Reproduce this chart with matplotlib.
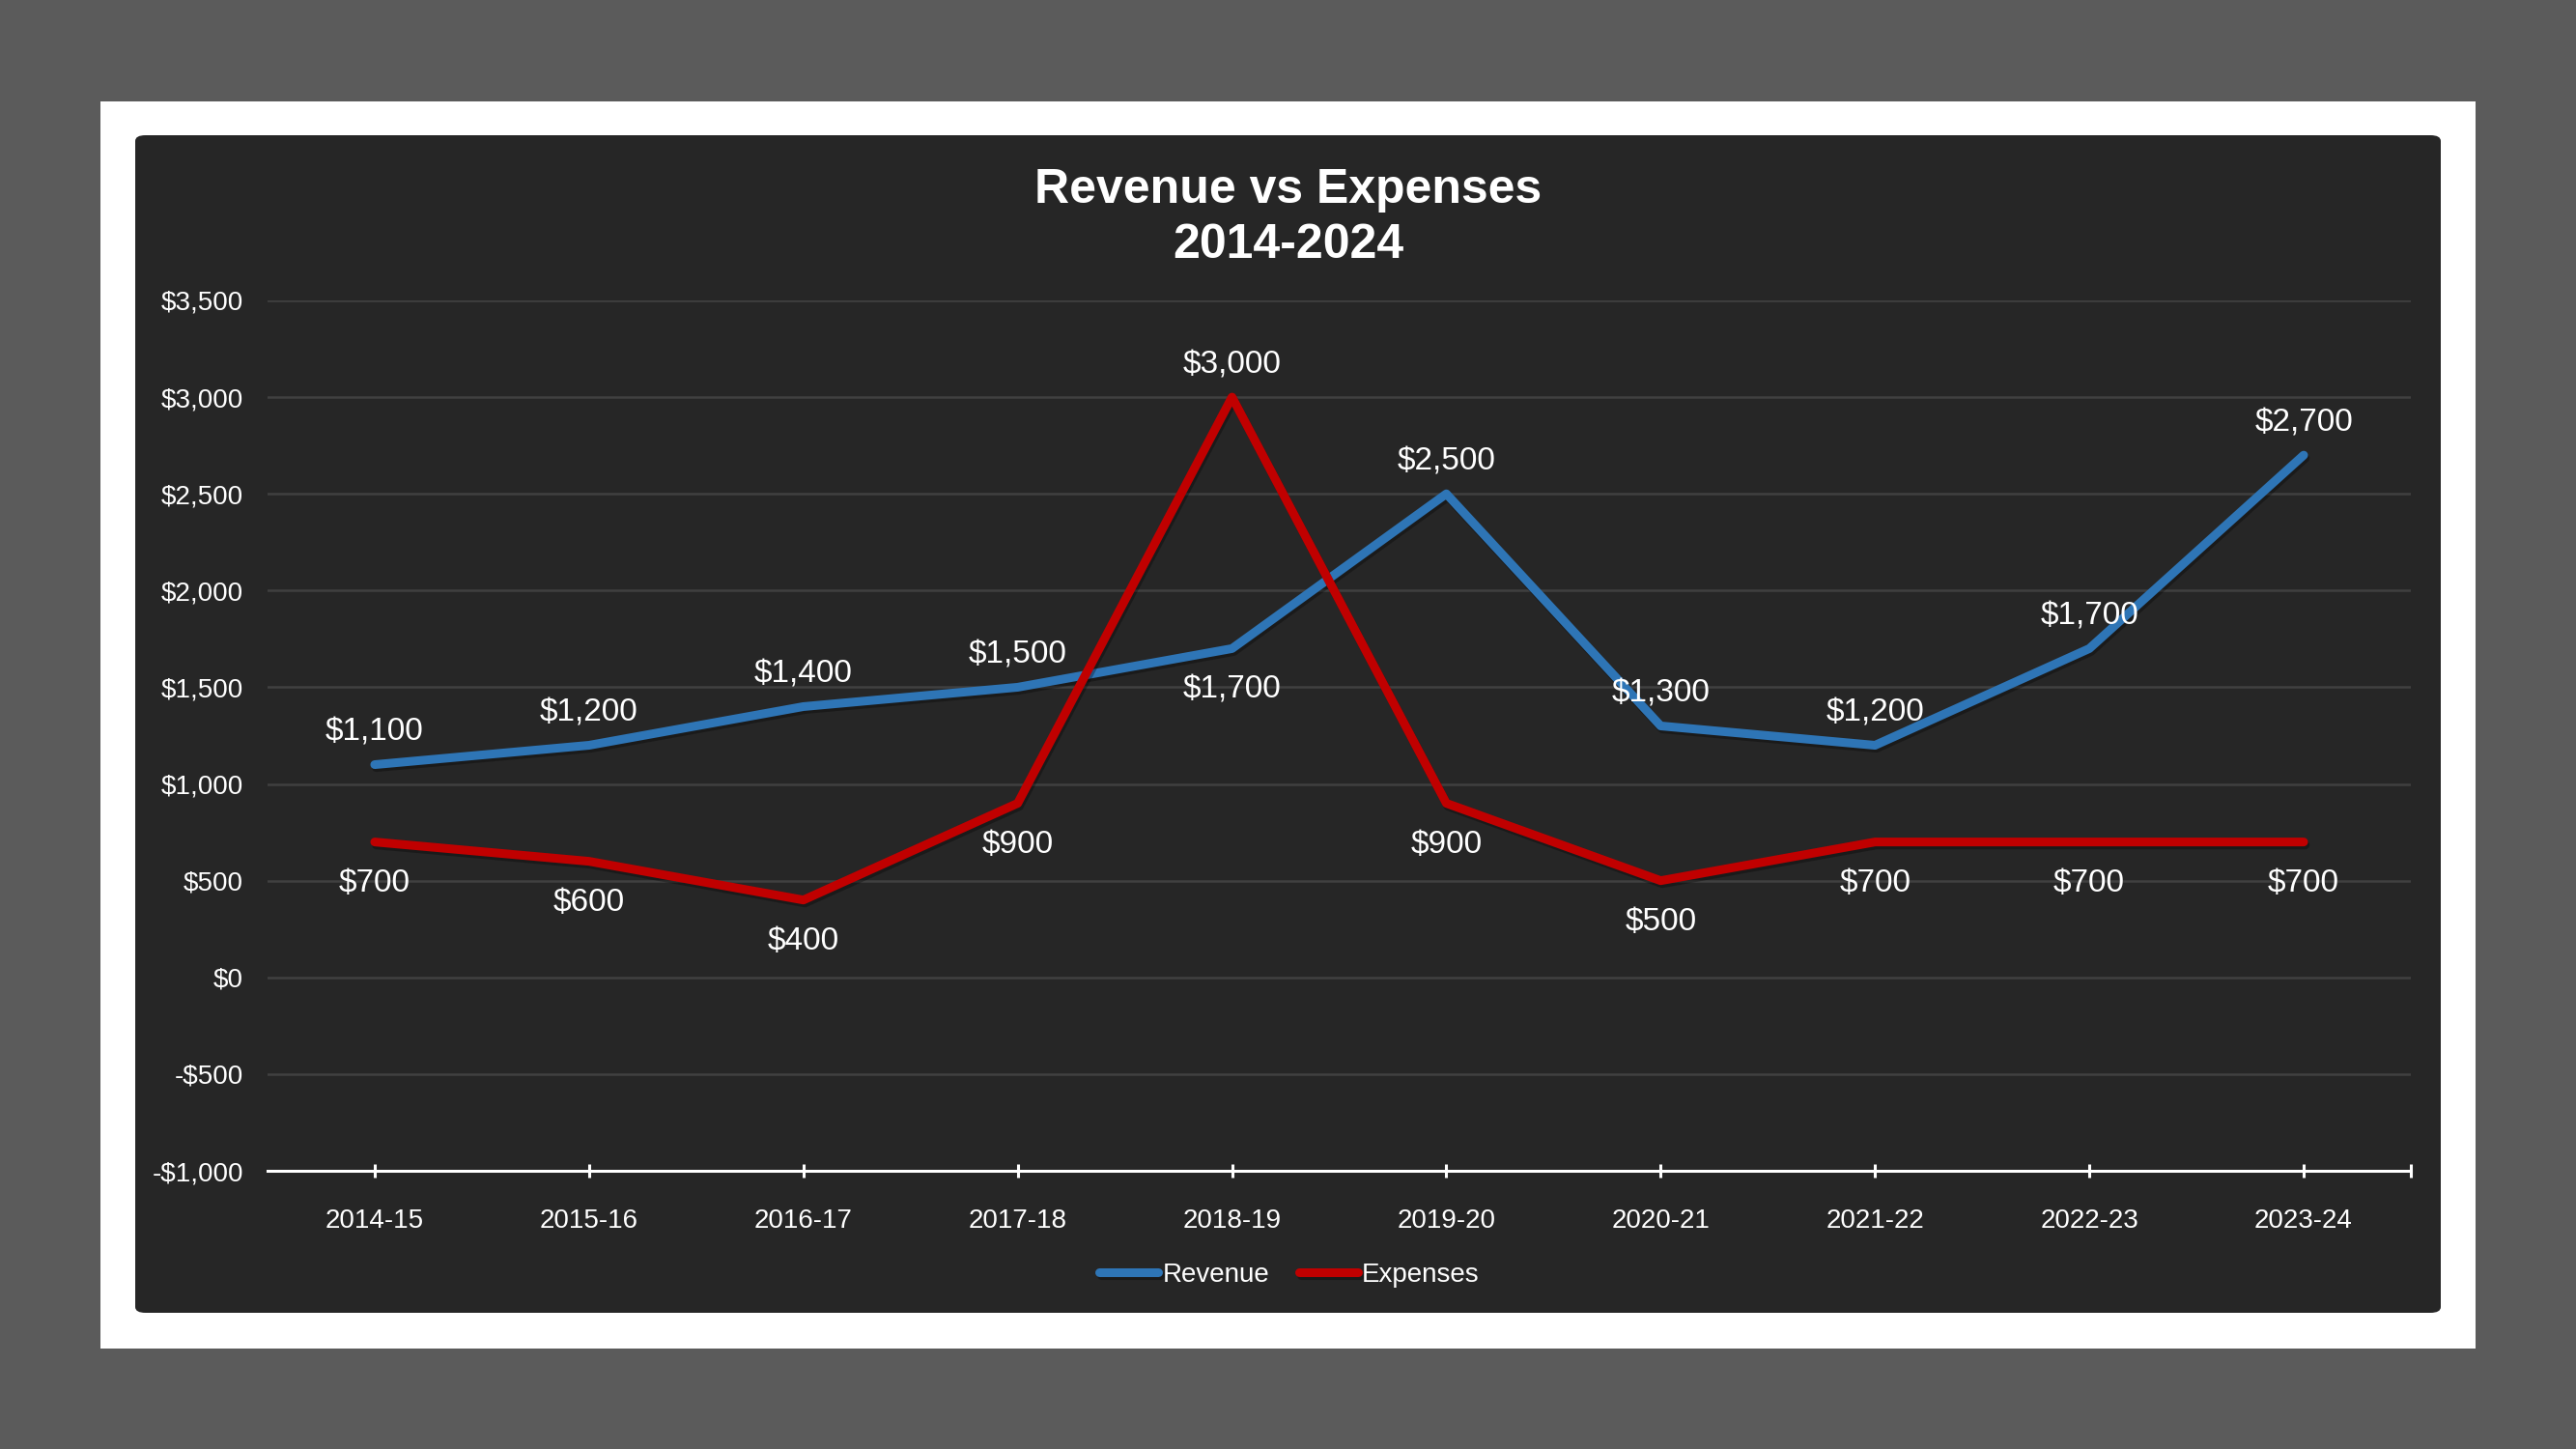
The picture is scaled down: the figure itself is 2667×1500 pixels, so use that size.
import matplotlib
matplotlib.use("Agg")
import matplotlib.pyplot as plt
import matplotlib.patheffects as pe
from matplotlib.patches import Rectangle, FancyBboxPatch
from matplotlib.ticker import FuncFormatter, FixedLocator

plt.rcParams['font.family'] = ['Liberation Sans', 'DejaVu Sans']

categories = ["2014-15", "2015-16", "2016-17", "2017-18", "2018-19",
              "2019-20", "2020-21", "2021-22", "2022-23", "2023-24"]
revenue = [1100, 1200, 1400, 1500, 1700, 2500, 1300, 1200, 1700, 2700]
expenses = [700, 600, 400, 900, 3000, 900, 500, 700, 700, 700]
# label placement: +1 above point, -1 below point
revenue_label_side = [1, 1, 1, 1, -1, 1, 1, 1, 1, 1]
expenses_label_side = [-1, -1, -1, -1, 1, -1, -1, -1, -1, -1]
title_lines = ["Revenue vs Expenses", "2014-2024"]

W, H = 2667, 1500
fig = plt.figure(figsize=(W / 100, H / 100), dpi=100)
fig.patch.set_facecolor("#5B5B5B")

def fx(px):
    return px / W

def fy(py):
    return 1 - py / H

# white frame
fig.patches.append(Rectangle((fx(104), fy(1396)), fx(2563) - fx(104), fy(105) - fy(1396),
                             transform=fig.transFigure, facecolor="white", edgecolor="none", zorder=-3))
# dark chart panel with rounded corners
fig.patches.append(FancyBboxPatch((fx(140), fy(1359)), fx(2527) - fx(140), fy(140) - fy(1359),
                                  boxstyle="round,pad=0,rounding_size=0.004",
                                  transform=fig.transFigure, facecolor="#262626", edgecolor="none", zorder=-2))

ax = fig.add_axes([fx(277), fy(1212), fx(2496) - fx(277), fy(311) - fy(1212)])
ax.set_facecolor("none")
ax.set_zorder(1)

shadow = [pe.SimpleLineShadow(offset=(1.2, -2.2), shadow_color="black", alpha=0.3), pe.Normal()]

x = list(range(len(categories)))
ax.plot(x, revenue, color="#2E75B6", lw=6.5, solid_joinstyle="round", solid_capstyle="round",
        label="Revenue", zorder=3, path_effects=shadow)
ax.plot(x, expenses, color="#C00000", lw=6.5, solid_joinstyle="round", solid_capstyle="round",
        label="Expenses", zorder=4, path_effects=shadow)

for xi, v, s in zip(x, revenue, revenue_label_side):
    ax.annotate(f"${v:,}", (xi, v), xytext=(0, 27.5 * s - 3.5), textcoords="offset points",
                ha="center", va="center", color="white", fontsize=24, zorder=5)
for xi, v, s in zip(x, expenses, expenses_label_side):
    ax.annotate(f"${v:,}", (xi, v), xytext=(0, 27.5 * s - 3.5), textcoords="offset points",
                ha="center", va="center", color="white", fontsize=24, zorder=5)

ax.set_xlim(-0.5, len(categories) - 0.5)
ax.set_ylim(-1000, 3500)
ax.set_yticks(range(-1000, 3501, 500))

def money(v, pos):
    v = int(round(v))
    return f"-${abs(v):,}" if v < 0 else f"${v:,}"

ax.yaxis.set_major_formatter(FuncFormatter(money))
ax.set_xticks(x)
ax.set_xticklabels(categories)
ax.xaxis.set_minor_locator(FixedLocator([len(categories) - 0.5]))

ax.grid(axis="y", color="#404040", lw=1.8, zorder=1)
ax.set_axisbelow(True)
for side in ("top", "right", "left"):
    ax.spines[side].set_visible(False)
ax.spines["bottom"].set_color("white")
ax.spines["bottom"].set_linewidth(2.2)
ax.spines["bottom"].set_zorder(2)

ax.tick_params(axis="y", length=0, pad=18, labelsize=20, labelcolor="white")
ax.tick_params(axis="x", which="both", direction="inout", length=9.6, width=2.2, color="white",
               pad=23, labelsize=20, labelcolor="white")

for i, t in enumerate(title_lines):
    fig.text(0.5, fy(197 + 57 * i), t, ha="center", va="center", color="white",
             fontsize=36, fontweight="bold")

fig.legend(loc="center", bbox_to_anchor=(fx(1335), fy(1320)), ncol=2, frameon=False,
           fontsize=20, labelcolor="white", handlelength=2.2, handletextpad=0.15,
           columnspacing=1.1)

fig.savefig("out.png", dpi=100, facecolor=fig.get_facecolor())
